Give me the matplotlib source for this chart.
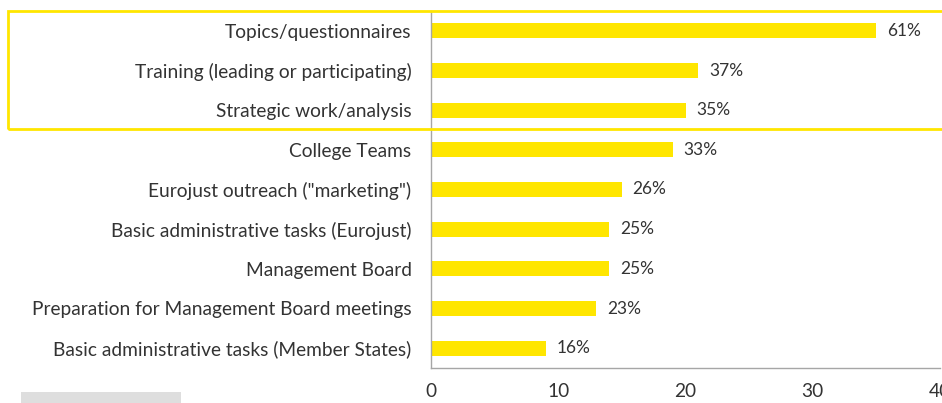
import matplotlib.pyplot as plt
from matplotlib.patches import Rectangle

categories = [
    "Topics/questionnaires",
    "Training (leading or participating)",
    "Strategic work/analysis",
    "College Teams",
    'Eurojust outreach ("marketing")',
    "Basic administrative tasks (Eurojust)",
    "Management Board",
    "Preparation for Management Board meetings",
    "Basic administrative tasks (Member States)",
]
counts = [35, 21, 20, 19, 15, 14, 14, 13, 9]
pct_labels = ["61%", "37%", "35%", "33%", "26%", "25%", "25%", "23%", "16%"]
xticks = [0, 10, 20, 30, 40]

yellow = "#FFE600"
text_col = "#333333"
plt.rcParams['font.family'] = ['Lato', 'DejaVu Sans']

fig = plt.figure(figsize=(9.42, 4.03), dpi=100)
ax = fig.add_axes([431 / 942, 1 - 368 / 403, (940 - 431) / 942, (368 - 11) / 403])

y = list(range(len(categories)))
ax.barh(y, counts, height=0.38, color=yellow)
for yi, c, lab in zip(y, counts, pct_labels):
    ax.text(c + 0.85, yi, lab, va='center', ha='left', fontsize=12.5, color=text_col)

ax.set_ylim(len(categories) - 0.5, -0.5)
ax.set_xlim(0, 40)
ax.set_yticks(y)
ax.set_yticklabels(categories, fontsize=13.8, color=text_col)
ax.set_xticks(xticks)
ax.set_xticklabels([str(t) for t in xticks], fontsize=13.8, color=text_col)
ax.tick_params(axis='y', length=0, pad=14)
ax.tick_params(axis='x', length=0, pad=11)
for s in ['top', 'right']:
    ax.spines[s].set_visible(False)
for s in ['left', 'bottom']:
    ax.spines[s].set_color('#a6a6a6')
    ax.spines[s].set_linewidth(1)

# highlight box round the top three rows
fig.patches.append(Rectangle((8 / 942, 1 - 129 / 403), 940 / 942, 118 / 403,
                             transform=fig.transFigure, fill=False,
                             edgecolor=yellow, linewidth=2, clip_on=False))
# grey strip bottom left
fig.patches.append(Rectangle((21 / 942, 0), 160 / 942, 11 / 403,
                             transform=fig.transFigure, facecolor='#dedede',
                             edgecolor='none'))

fig.savefig('out.png', dpi=100)
